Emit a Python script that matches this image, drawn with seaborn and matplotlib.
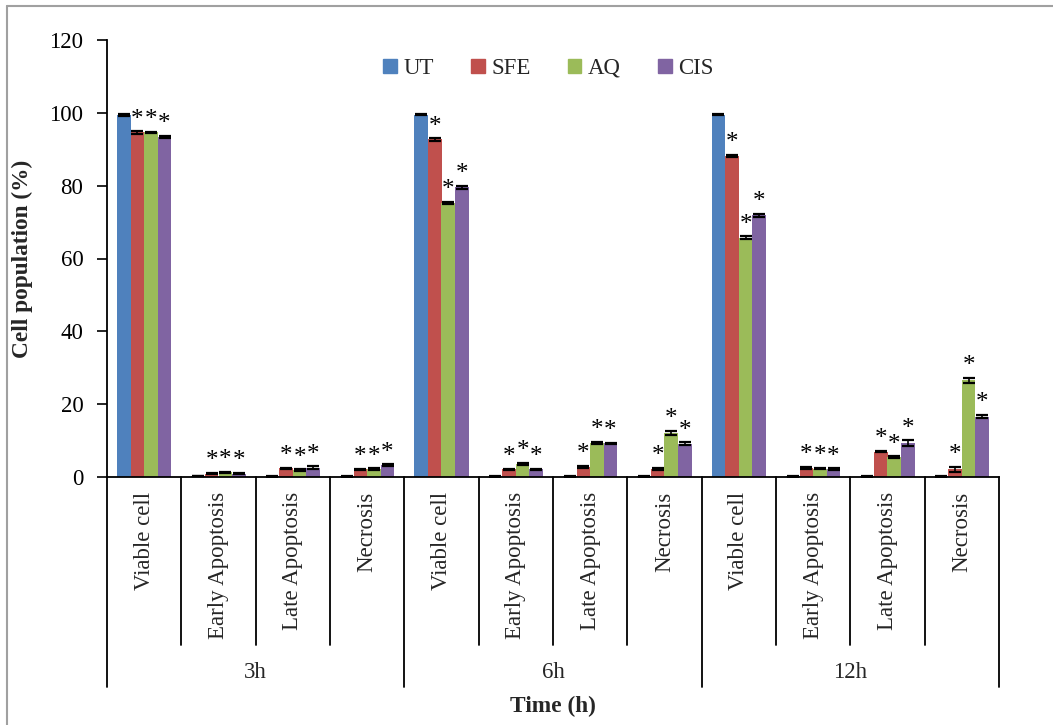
import matplotlib
matplotlib.use("Agg")
import matplotlib.pyplot as plt
import matplotlib.transforms as mtransforms
from matplotlib.lines import Line2D
import numpy as np
import pandas as pd
import seaborn as sns

# ---- data -------------------------------------------------------------
times = ["3h", "6h", "12h"]
stages = ["Viable cell", "Early Apoptosis", "Late Apoptosis", "Necrosis"]
treatments = ["UT", "SFE", "AQ", "CIS"]
colors = ["#4F81BD", "#C0504D", "#9BBB59", "#8064A2"]

# mean cell population (%), one list per treatment, ordered time x stage
ut_vals = [99.4, 0.3, 0.2, 0.2,   99.5, 0.2, 0.2, 0.2,   99.5, 0.2, 0.2, 0.2]
sfe_vals = [94.6, 0.9, 2.4, 2.1,  92.7, 2.1, 2.8, 2.3,   88.2, 2.5, 7.0, 2.1]
aq_vals = [94.6, 1.3, 1.9, 2.2,   75.2, 3.6, 9.4, 12.0,  65.7, 2.3, 5.4, 26.5]
cis_vals = [93.3, 0.9, 2.6, 3.2,  79.6, 2.1, 9.2, 9.1,   71.9, 2.2, 9.3, 16.6]

# standard errors
ut_err = [0.2, 0.1, 0.1, 0.1,   0.2, 0.1, 0.1, 0.1,   0.2, 0.1, 0.1, 0.1]
sfe_err = [0.3, 0.2, 0.2, 0.2,  0.3, 0.2, 0.2, 0.3,   0.3, 0.2, 0.2, 0.6]
aq_err = [0.2, 0.2, 0.2, 0.2,   0.3, 0.2, 0.3, 0.6,   0.4, 0.2, 0.3, 0.8]
cis_err = [0.3, 0.2, 0.3, 0.3,  0.4, 0.2, 0.2, 0.4,   0.4, 0.2, 0.8, 0.5]

# significance flags vs untreated
ut_sig = [0] * 12
sfe_sig = [1] * 12
aq_sig = [1] * 12
cis_sig = [1] * 12

yticks = [0, 20, 40, 60, 80, 100, 120]

# ---- long-form table ---------------------------------------------------
cats = [f"{t}|{s}" for t in times for s in stages]
rows = []
for tr, vals, errs, sigs in zip(
        treatments,
        [ut_vals, sfe_vals, aq_vals, cis_vals],
        [ut_err, sfe_err, aq_err, cis_err],
        [ut_sig, sfe_sig, aq_sig, cis_sig]):
    for c, v, e, s in zip(cats, vals, errs, sigs):
        rows.append({"cat": c, "treatment": tr, "value": v, "err": e, "sig": s})
df = pd.DataFrame(rows)

# ---- figure ------------------------------------------------------------
sns.set_theme(style="white")
plt.rcParams["font.family"] = ["Liberation Serif", "DejaVu Serif"]

fig = plt.figure(figsize=(10.53, 7.25), dpi=100)
ax = fig.add_axes([107 / 1053, 1 - 477 / 725, (999 - 107) / 1053, (477 - 40) / 725])

sns.barplot(data=df, x="cat", y="value", hue="treatment", order=cats,
            hue_order=treatments, palette=colors, width=0.73,
            errorbar=None, linewidth=0, saturation=1, ax=ax, legend=False)

# error bars and significance marks on each bar
for i, tr in enumerate(treatments):
    container = ax.containers[i]
    sub = df[df["treatment"] == tr].set_index("cat").loc[cats]
    xs = [p.get_x() + p.get_width() / 2 for p in container.patches]
    ax.errorbar(xs, sub["value"], yerr=sub["err"], fmt="none", ecolor="black",
                elinewidth=1.2, capsize=4, capthick=1.6, zorder=3)
    for x, v, e, s in zip(xs, sub["value"], sub["err"], sub["sig"]):
        if s:
            ax.annotate("*", (x, v + e), xytext=(0, 0.5), textcoords="offset points",
                        ha="center", va="bottom", fontsize=18, color="black")

ax.set_xlim(-0.5, len(cats) - 0.5)
ax.set_ylim(0, 120)
ax.set_yticks(yticks)
ax.set_yticklabels([str(t) for t in yticks], fontsize=16.5)
ax.tick_params(axis="y", direction="out", length=7, width=1.2, pad=10, left=True, colors="black")
ax.tick_params(axis="x", bottom=False, labelbottom=False)
ax.set_xlabel("")
ax.set_ylabel("Cell population (%)", fontsize=16.8, fontweight="bold")
ax.yaxis.set_label_coords(-0.083, 0.5)
for side in ["top", "right"]:
    ax.spines[side].set_visible(False)
for side in ["left", "bottom"]:
    ax.spines[side].set_color("black")
    ax.spines[side].set_linewidth(1.3)

# multi-level category axis
trans = mtransforms.blended_transform_factory(ax.transData, ax.transAxes)
n_st = len(stages)
for k in range(len(cats) + 1):
    xb = k - 0.5
    y_end = -0.481 if k % n_st == 0 else -0.384
    ax.add_line(Line2D([xb, xb], [0, y_end], transform=trans, color="black",
                       lw=1.3, clip_on=False))
for k, c in enumerate(cats):
    ax.text(k, -0.034, c.split("|")[1], transform=trans, rotation=90,
            ha="center", va="top", fontsize=16.5)
for g, t in enumerate(times):
    ax.text(g * n_st + (n_st - 1) / 2, -0.448, t, transform=trans,
            ha="center", va="center", fontsize=16.5)
ax.text(0.5, -0.524, "Time (h)", transform=ax.transAxes, ha="center",
        va="center", fontsize=16.8, fontweight="bold")

# legend
handles = [plt.Rectangle((0, 0), 1, 1, color=c) for c in colors]
ax.legend(handles, treatments, loc="center", bbox_to_anchor=(0.495, 0.935),
          ncol=4, frameon=False, fontsize=16.5, handlelength=0.6,
          handleheight=0.6, handletextpad=0.3, columnspacing=1.6)

# chart-area frame
fig.add_artist(Line2D([7 / 1053, 1.0], [1 - 6 / 725, 1 - 6 / 725],
                      transform=fig.transFigure, color="#A0A0A0", lw=1.5))
fig.add_artist(Line2D([7 / 1053, 7 / 1053], [0, 1 - 6 / 725],
                      transform=fig.transFigure, color="#A0A0A0", lw=1.5))

fig.savefig("out.png", dpi=100, facecolor="white")
